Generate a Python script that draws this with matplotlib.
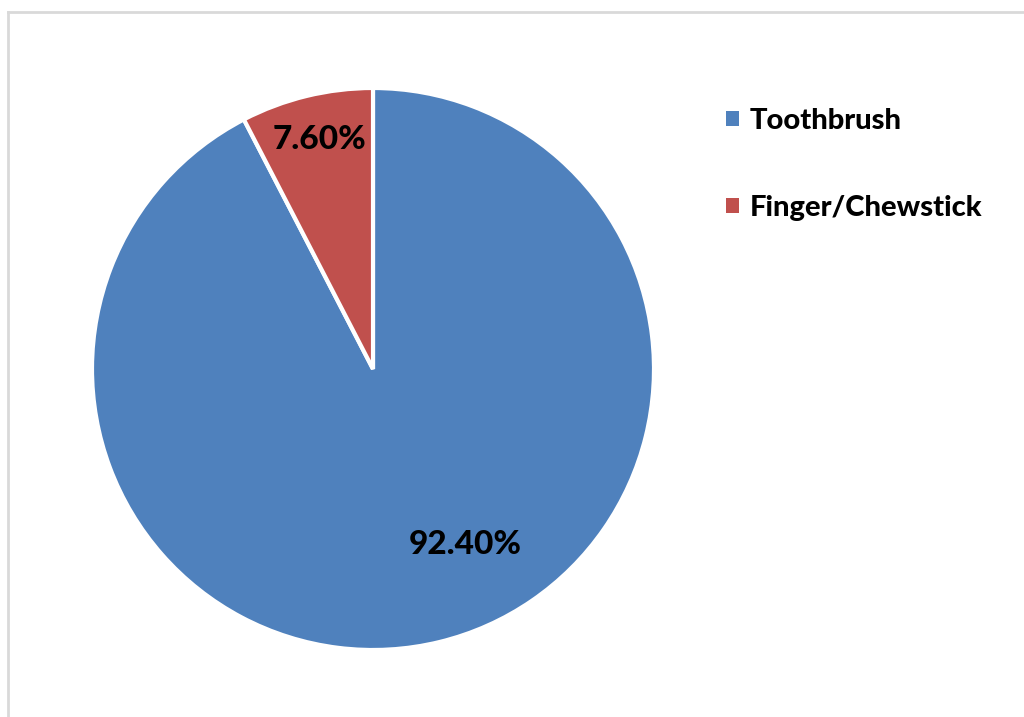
import matplotlib.pyplot as plt
from matplotlib.lines import Line2D
from matplotlib.patches import Patch

# oral hygiene method shares
categorias = ['Toothbrush', 'Finger/Chewstick']
valores = [92.40, 7.60]
rotulos = ['92.40%', '7.60%']
cores = ['#4F81BD', '#C0504D']

plt.rcParams['font.family'] = ['Lato', 'DejaVu Sans']

W, H = 1024, 717
fig = plt.figure(figsize=(W / 100, H / 100), dpi=100)

# pie area: centre (373, 369) px, radius 281 px
cx, cy, r = 373, 369, 281
ax = fig.add_axes([(cx - r) / W, (H - cy - r) / H, 2 * r / W, 2 * r / H])
wedges, _ = ax.pie(valores, colors=cores, startangle=90, counterclock=False,
                   radius=1.0, wedgeprops=dict(edgecolor='white', linewidth=3))
ax.set_xlim(-1.0, 1.0)
ax.set_ylim(-1.0, 1.0)
ax.set_aspect('equal')
ax.axis('off')

# value labels
pos_rotulos = [(0.327, -0.626), (-0.189, 0.815)]
for txt, (x, y) in zip(rotulos, pos_rotulos):
    ax.text(x, y, txt, ha='center', va='center', fontsize=24,
            fontweight='black', color='black')

# legend
handles = [Patch(facecolor=c, edgecolor='none') for c in cores]
fig.legend(handles, categorias, loc='upper left',
           bbox_to_anchor=(726 / W, 1 - 108 / H), frameon=False,
           prop=dict(size=21, weight='black'), handlelength=0.43,
           handleheight=0.43, handletextpad=0.38, labelspacing=2.1,
           borderpad=0, borderaxespad=0)

# chart frame (light grey, open at right/bottom edges)
cor_borda = '#D9D9D9'
fig.add_artist(Line2D([8 / W, 8 / W], [0, 1 - 12 / H], color=cor_borda,
                      linewidth=2, transform=fig.transFigure))
fig.add_artist(Line2D([8 / W, 1], [1 - 12 / H, 1 - 12 / H], color=cor_borda,
                      linewidth=2, transform=fig.transFigure))

fig.savefig('out.png', dpi=100)
